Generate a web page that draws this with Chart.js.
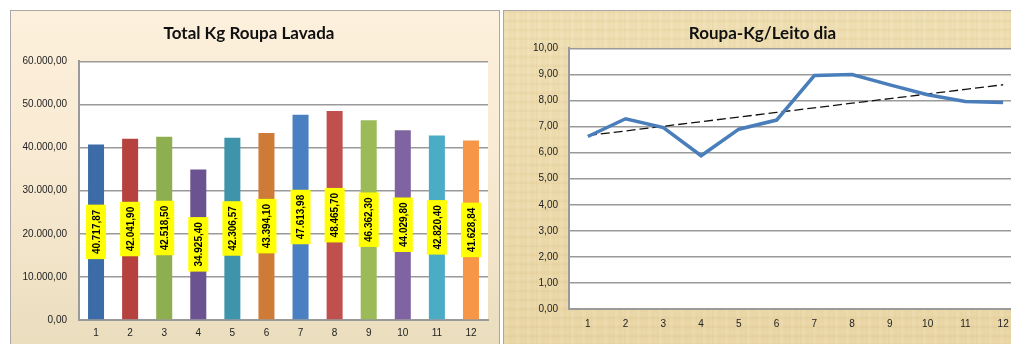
<!DOCTYPE html>
<html>
<head>
<meta charset="utf-8">
<script src="https://cdn.jsdelivr.net/npm/chart.js@4.4.1/dist/chart.umd.min.js"></script>
<style>
  html, body { margin: 0; padding: 0; background: #fff; overflow: hidden; width: 1011px; height: 344px; }
  .panel { position: absolute; top: 10px; height: 345px; overflow: hidden; box-shadow: inset 0 0 0 1px #a8a8a8; }
  #left-panel {
    left: 10px; width: 490px;
    background: linear-gradient(to bottom, #fdf0dc 0%, #f8ead2 45%, #e9ddbd 100%);
  }
  #right-panel {
    left: 503px; width: 530px;
    background:
      repeating-linear-gradient(90deg, rgba(190,160,90,0.10) 0px, rgba(255,255,255,0.08) 3px, rgba(190,160,90,0.06) 7px, rgba(255,255,255,0) 11px),
      repeating-linear-gradient(0deg, rgba(170,140,70,0.08) 0px, rgba(255,255,255,0.06) 4px, rgba(170,140,70,0) 9px),
      linear-gradient(to bottom, #f0dfb2, #ead6a4);
  }
  canvas { position: absolute; left: 0; top: 0; }
</style>
</head>
<body>
<div class="panel" id="left-panel"><canvas id="kgChart" width="490" height="341"></canvas></div>
<div class="panel" id="right-panel"><canvas id="leitoChart" width="530" height="344"></canvas></div>

<script>
// data
const months = ["1", "2", "3", "4", "5", "6", "7", "8", "9", "10", "11", "12"];
const kgLavada = [40717.87, 42041.90, 42518.50, 34925.40, 42306.57, 43394.10,
                  47613.98, 48465.70, 46362.30, 44029.80, 42820.40, 41628.84];
const kgPorLeito = [6.62, 7.30, 6.96, 5.88, 6.90, 7.25, 8.96, 9.00, 8.60, 8.22, 7.96, 7.92];

const barColors = ["#3c6ca7", "#b5423f", "#8daf50", "#6b5290", "#3d94ab", "#cf7b38",
                   "#4a7fc2", "#c0504d", "#9bbb59", "#8064a2", "#4bacc6", "#f79646"];

// number format like the sheet (pt-BR)
function fmtBR(v, dec) {
    const parts = v.toFixed(dec).split(".");
    parts[0] = parts[0].replace(/\B(?=(\d{3})+(?!\d))/g, ".");
    return parts.join(",");
}

// linear trend (least squares), like Excel's trendline
function trendOf(values) {
    const n = values.length;
    let sx = 0, sy = 0, sxy = 0, sxx = 0;
    values.forEach((y, i) => {
        const x = i + 1;
        sx += x; sy += y; sxy += x * y; sxx += x * x;
    });
    const slope = (n * sxy - sx * sy) / (n * sxx - sx * sx);
    const icpt = (sy - slope * sx) / n;
    return values.map((_, i) => icpt + slope * (i + 1));
}

const tickFont = { family: "Liberation Sans", size: 10 };
const titleFont = { family: "Lato", size: 17, weight: "bold" };

// white plot area
const plotBg = {
    id: "plotBg",
    beforeDraw(chart) {
        const a = chart.chartArea;
        const ctx = chart.ctx;
        ctx.save();
        ctx.fillStyle = "#ffffff";
        ctx.fillRect(a.left, a.top, a.right - a.left, a.bottom - a.top);
        ctx.restore();
    }
};

// yellow vertical value labels in the middle of each bar
const barLabels = {
    id: "barLabels",
    afterDatasetsDraw(chart) {
        const ctx = chart.ctx;
        const meta = chart.getDatasetMeta(0);
        ctx.save();
        ctx.font = "bold 10px 'Liberation Sans'";
        meta.data.forEach((bar, i) => {
            const txt = fmtBR(kgLavada[i], 2);
            const w = ctx.measureText(txt).width + 10;
            const cy = (bar.y + bar.base) / 2;
            ctx.save();
            ctx.translate(bar.x, cy);
            ctx.rotate(-Math.PI / 2);
            ctx.fillStyle = "#ffff00";
            ctx.fillRect(-w / 2, -10, w, 20);
            ctx.fillStyle = "#000";
            ctx.textAlign = "center";
            ctx.textBaseline = "middle";
            ctx.fillText(txt, 0, 1);
            ctx.restore();
        });
        ctx.restore();
    }
};

document.addEventListener("DOMContentLoaded", () => {

    // Total Kg Roupa Lavada
    new Chart(document.getElementById("kgChart"), {
        type: "bar",
        data: {
            labels: months,
            datasets: [{
                label: "Total Kg",
                data: kgLavada,
                backgroundColor: barColors,
                categoryPercentage: 1,
                barPercentage: 0.47
            }]
        },
        options: {
            responsive: false,
            animation: false,
            devicePixelRatio: 1,
            layout: { padding: { top: 0, right: 12, bottom: 5, left: 0 } },
            plugins: {
                legend: { display: false },
                tooltip: { enabled: false },
                title: {
                    display: true,
                    text: "Total Kg Roupa Lavada",
                    font: titleFont,
                    color: "#111",
                    padding: { top: 13, bottom: 18 }
                }
            },
            scales: {
                x: {
                    grid: { display: false, drawTicks: false },
                    border: { display: true, color: "#9a9a9a", width: 2 },
                    ticks: { font: tickFont, color: "#222", padding: 7 }
                },
                y: {
                    min: 0,
                    max: 60000,
                    afterFit: (s) => { s.width = 69; },
                    grid: { color: "#9a9a9a", lineWidth: 1.5, drawTicks: false },
                    border: { display: true, color: "#9a9a9a", width: 2 },
                    ticks: {
                        stepSize: 10000,
                        font: tickFont,
                        color: "#222",
                        padding: 12,
                        callback: (v) => fmtBR(v, 2)
                    }
                }
            }
        },
        plugins: [plotBg, barLabels]
    });

    // Roupa-Kg/Leito dia
    new Chart(document.getElementById("leitoChart"), {
        type: "line",
        data: {
            labels: months,
            datasets: [{
                label: "Kg/Leito dia",
                data: kgPorLeito,
                borderColor: "#4a7ebb",
                borderWidth: 3.5,
                pointRadius: 0,
                tension: 0
            }, {
                label: "Tendência",
                data: trendOf(kgPorLeito),
                borderColor: "#111",
                borderWidth: 1.3,
                borderDash: [9, 4],
                pointRadius: 0,
                tension: 0
            }]
        },
        options: {
            responsive: false,
            animation: false,
            devicePixelRatio: 1,
            layout: { padding: { top: 0, right: 11, bottom: 15, left: 0 } },
            plugins: {
                legend: { display: false },
                tooltip: { enabled: false },
                title: {
                    display: true,
                    text: "Roupa-Kg/Leito dia",
                    font: titleFont,
                    color: "#111",
                    padding: { top: 13, bottom: 5 }
                }
            },
            scales: {
                x: {
                    offset: true,
                    grid: { display: false, drawTicks: false },
                    border: { display: true, color: "#9a9a9a", width: 2 },
                    ticks: { font: tickFont, color: "#222", padding: 9 }
                },
                y: {
                    min: 0,
                    max: 10,
                    afterFit: (s) => { s.width = 66; },
                    grid: { color: "#9a9a9a", lineWidth: 1.5, drawTicks: false },
                    border: { display: true, color: "#9a9a9a", width: 2 },
                    ticks: {
                        stepSize: 1,
                        font: tickFont,
                        color: "#222",
                        padding: 11,
                        callback: (v) => fmtBR(v, 2)
                    }
                }
            }
        },
        plugins: [plotBg]
    });

});
</script>
</body>
</html>
